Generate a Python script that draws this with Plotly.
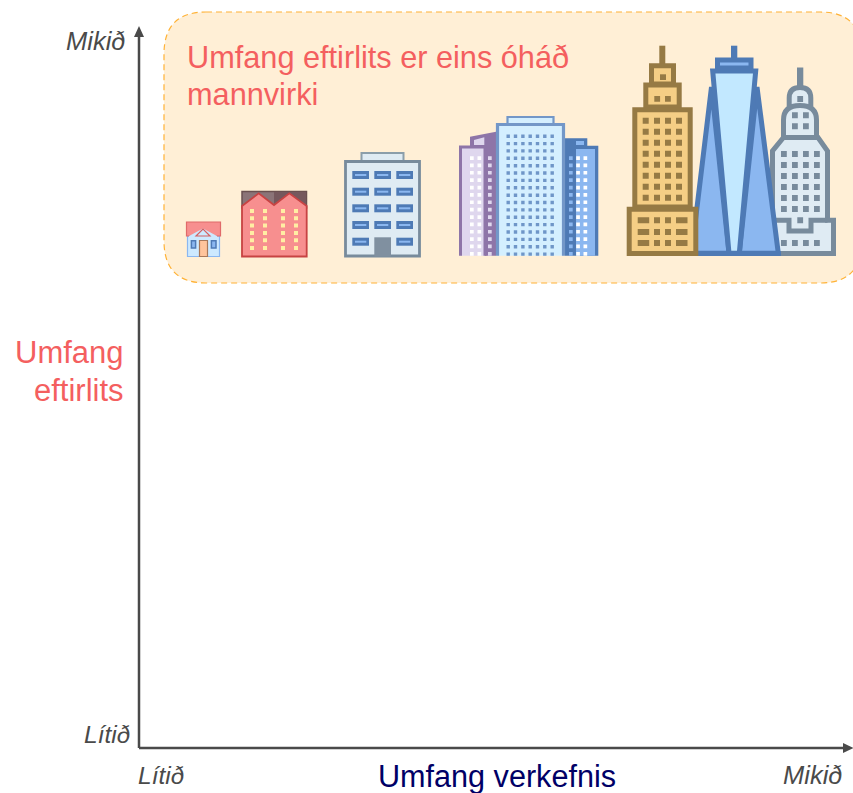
import plotly.graph_objects as go

# Labels of the diagram
y_axis_title = ["Umfang", "eftirlits"]
x_axis_title = "Umfang verkefnis"
axis_low = "Lítið"
axis_high = "Mikið"
panel_title = ["Umfang eftirlits er eins óháð", "mannvirki"]

W, H = 853, 793
shapes = []
annotations = []


def path(d, fill=None, line=None, width=0, dash=None):
    ln = dict(color=line or "rgba(0,0,0,0)", width=width)
    if dash:
        ln["dash"] = dash
    shapes.append(dict(type="path", path=d, xref="x", yref="y", layer="above",
                       fillcolor=fill or "rgba(0,0,0,0)", line=ln))


def poly(pts, fill=None, line=None, width=0):
    d = "M" + " L".join(f"{x:.1f},{y:.1f}" for x, y in pts) + " Z"
    path(d, fill, line, width)


def rect(x0, y0, x1, y1, fill=None, line=None, width=0):
    poly([(x0, y0), (x1, y0), (x1, y1), (x0, y1)], fill, line, width)


def cells(xs, ys, w, h, fill):
    # many equal windows drawn as one compound path
    d = ""
    for y in ys:
        for x in xs:
            d += f"M{x:.1f},{y:.1f} L{x + w:.1f},{y:.1f} L{x + w:.1f},{y + h:.1f} L{x:.1f},{y + h:.1f} Z "
    path(d, fill)


def text(s, x, y, size, color, anchor="left", italic=False):
    annotations.append(dict(text=s, x=x, y=y, xref="x", yref="y", showarrow=False,
                            xanchor=anchor, yanchor="middle",
                            font=dict(family="Liberation Sans", size=size, color=color,
                                      style="italic" if italic else "normal")))


# Highlighted panel with dashed outline, running off the right edge
r = 42
L, T, R, B = 164, 12, 862, 283
path(f"M{L + r},{T} L{R - r},{T} Q{R},{T} {R},{T + r} L{R},{B - r} Q{R},{B} {R - r},{B} "
     f"L{L + r},{B} Q{L},{B} {L},{B - r} L{L},{T + r} Q{L},{T} {L + r},{T} Z",
     "#FFEFD6", "#FFB236", 1.2, "6px,4px")

# Small house
BLUE_D, BLUE_M, BLUE_L = "#4E7AB5", "#8BB7F0", "#CFE9FF"
RED_F, RED_S = "#F78F8F", "#C74343"
rect(187.5, 236, 219.5, 256.5, "#CDE9FF", BLUE_M, 1.2)
rect(186.5, 222, 220.5, 236, RED_F, "#E06A6A", 1.2)
poly([(189, 236), (203, 228.5), (217, 236), (217, 240), (189, 240)], "#CDE9FF")
poly([(196, 236), (203, 229), (210, 236)], None, "#D46060", 1.2)
rect(199.5, 240.5, 207.5, 256.5, "#FFC49C", "#A8785A", 1.2)
rect(191.4, 240.8, 195.6, 248, BLUE_M, BLUE_D, 1.5)
rect(211.4, 240.8, 216, 248, BLUE_M, BLUE_D, 1.5)

# Low-rise red block
rect(242, 191.5, 306.5, 208, "#8B7478", "#6A5050", 1.5)
rect(274, 192, 306, 206, "#75585D")
poly([(242, 206), (258.7, 193.3), (274, 205), (289.3, 193.3), (306.7, 206), (306.7, 256.5), (242, 256.5)],
     RED_F, RED_S, 1.8)
cells([250, 263, 281, 294], [209, 216.3, 223.6, 231, 238.3, 246], 4, 4, "#FFEEA3")

# Office building
GREY_S, GREY_F = "#788B9C", "#DFEBF3"
rect(361.5, 153, 403.5, 161, GREY_F, "#8B9EAA", 2)
rect(345.5, 161.5, 419.5, 256, GREY_F, GREY_S, 2.8)
for y in [175, 191.7, 208.3, 225, 241.7]:
    for x in [352.3, 374.3, 396.3]:
        if x == 374.3 and y == 241.7:
            continue
        rect(x, y - 4, x + 16.7, y + 4, BLUE_D)
        rect(x + 2.7, y - 1, x + 14, y + 1, BLUE_M)
rect(374.3, 237.3, 391, 256.5, "#8090A0")

# Three-tower group, side towers first
rows_side = [158 + 7.37 * i for i in range(14)]
rows_mid = [134.5 + 7.37 * i for i in range(17)]
PURPLE_S, PURPLE_F = "#8E75A8", "#DFD7EE"
poly([(470, 136.7), (496, 131.7), (496, 255.7), (485, 255.7), (485, 146), (470, 146)], PURPLE_S)
poly([(474, 140), (484.3, 137.3), (484.3, 145), (474, 145)], PURPLE_F)
poly([(460.5, 147), (485, 147), (485, 255.7), (460.5, 255.7)], PURPLE_F)
path("M460.5,255.7 L460.5,147 L485,147 L485,255.7", None, PURPLE_S, 3)
cells([470, 477.5], [y - 1.8 for y in rows_side], 3.7, 3.7, "#FFFFFF")
cells([488], [y - 1.8 for y in rows_side], 3.7, 3.7, PURPLE_F)

poly([(565, 138.3), (587.3, 138.3), (587.3, 145.7), (598.3, 145.7), (598.3, 255.7), (565, 255.7)], BLUE_D)
rect(576, 149, 595, 255.7, BLUE_M)
rect(576, 141, 584, 145, BLUE_M)
cells([569], [y - 1.8 for y in rows_side], 3.7, 3.7, BLUE_M)
cells([576.2, 583.5], [y - 1.8 for y in rows_side], 3.7, 3.7, "#FFFFFF")

MID_S = "#7397C8"
rect(507.5, 117, 553.5, 124, "#D4EFFF", MID_S, 2.2)
path("M497.5,255.7 L497.5,124.5 L563.5,124.5 L563.5,255.7", "#D4EFFF", MID_S, 3.2)
cells([506.5 + 7.33 * i for i in range(7)], rows_mid, 3.4, 3.4, "#6F96C8")

# Stepped grey tower, behind the blue one
rect(797, 67.5, 803.3, 90, GREY_S)
path("M789.2,107 L789.2,98 Q789.2,87.5 800,87.5 Q810.8,87.5 810.8,98 L810.8,107 Z", GREY_F, GREY_S, 5)
path("M783.5,137.5 L783.5,120 Q783.5,105.5 800,105.5 Q816.5,105.5 816.5,120 L816.5,137.5 Z", GREY_F, GREY_S, 5)
poly([(783.5, 137.5), (818, 137.5), (827.5, 151), (827.5, 220.2), (833.5, 220.2), (833.5, 253.5),
      (772.5, 253.5), (772.5, 151)], GREY_F, GREY_S, 5)
path("M775,220.2 L789,220.2 L789,231 L811,231 L811,220.2 L827.5,220.2", None, GREY_S, 5)
cells([781, 792, 803, 814], [151 + 11 * i for i in range(6)], 5.8, 6, GREY_S)
cells([792, 803], [112.3, 123.3], 5.8, 6, GREY_S)
cells([797.3], [96, 217.3], 5.8, 6, GREY_S)
cells([781, 792, 803, 814], [240], 5.8, 6, GREY_S)

# Tapered blue tower
rect(731, 45.7, 737.3, 58, BLUE_D)
rect(717.5, 60, 751, 68, BLUE_M, BLUE_D, 5)
poly([(711.5, 87), (691.5, 253.3), (729, 253.3)], BLUE_M, BLUE_D, 5)
poly([(757, 87), (778.3, 253.3), (739.3, 253.3)], BLUE_M, BLUE_D, 5)
poly([(712.7, 71), (755.7, 71), (739.3, 253.3), (729, 253.3)], "#C2E8FF", BLUE_D, 5)
rect(688.3, 251, 780.7, 256, BLUE_D)

# Gold stepped tower, in front
GOLD_S, GOLD_F = "#967A44", "#F5CE85"
rect(659.3, 45.7, 665.3, 64, GOLD_S)
rect(651.5, 65.8, 673.5, 84, GOLD_F, GOLD_S, 5)
rect(660, 74.3, 666, 80, GOLD_S)
rect(645.8, 85, 679.2, 107, GOLD_F, GOLD_S, 5)
cells([654.3, 665], [96], 5.8, 5.8, GOLD_S)
rect(634.8, 109.8, 690.2, 207, GOLD_F, GOLD_S, 5)
cells([642.7, 654, 665, 676], [117.7 + 11 * i for i in range(8)], 6, 6, GOLD_S)
rect(629.2, 209.2, 695.8, 253.5, GOLD_F, GOLD_S, 5)
base_rows = [217.3, 229, 240]
cells([637.7, 676], base_rows, 11.5, 6, GOLD_S)
cells([654, 665], base_rows, 6, 6, GOLD_S)

# Axes with arrowheads
AXIS = "#4A4A4A"
path("M139,748 L139,34", None, AXIS, 2.5)
path("M139,748 L848,748", None, AXIS, 2.5)
poly([(139, 26), (134, 37), (144, 37)], AXIS)
poly([(853.5, 748), (843, 743), (843, 753)], AXIS)

# Text
TITLE_RED = "#F45F5F"
text(panel_title[0], 185, 57, 30.7, TITLE_RED)
text(panel_title[1], 185, 94, 30.7, TITLE_RED)
text(y_axis_title[0], 126, 352, 31, TITLE_RED, "right")
text(y_axis_title[1], 126, 390, 31, TITLE_RED, "right")
text(x_axis_title, 497, 776, 30.6, "#000066", "center")
text(axis_high, 128, 41, 25.5, AXIS, "right", True)
text(axis_low, 132, 734, 24.5, AXIS, "right", True)
text(axis_low, 136, 775, 24.5, AXIS, "left", True)
text(axis_high, 845, 775, 25.5, AXIS, "right", True)

fig = go.Figure()
fig.update_layout(
    width=W, height=H, autosize=False, margin=dict(l=0, r=0, t=0, b=0, pad=0),
    paper_bgcolor="#FFFFFF", plot_bgcolor="#FFFFFF", showlegend=False,
    xaxis=dict(range=[0, W], visible=False, fixedrange=True),
    yaxis=dict(range=[H, 0], visible=False, fixedrange=True),
    shapes=shapes, annotations=annotations,
)
fig.write_html("out.html", config=dict(displayModeBar=False))
